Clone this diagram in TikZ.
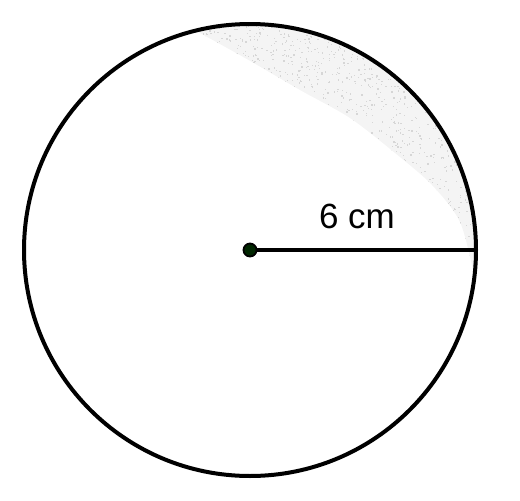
\documentclass[tikz,border=0pt]{standalone}
\usepackage{fontspec}
\setmainfont{Liberation Sans}
\begin{document}
\begin{tikzpicture}[x=1pt,y=-1pt,
  outline/.style={line width=4pt,draw=black},
  radiusline/.style={line width=3.6pt,draw=black},
  centerdot/.style={circle,fill=black!75!green!60!black,draw=black,line width=1.8pt,minimum size=13pt,inner sep=0pt},
  lbl/.style={font=\fontsize{35}{42}\selectfont,inner sep=0pt}]
\useasboundingbox (0,0) rectangle (520,501);
% shaded crescent
\pgfmathsetseed{7}
\begin{scope}
  \clip (250,250) circle[radius=225];
  \clip (180,10) -- (250,10) -- (490,10) -- (490,275)
     -- plot[smooth] coordinates {(474,275) (460,222) (432,185) (395,153) (350,118) (300,90) (245,58) (180,22)} -- cycle;
  \fill[gray!9] (150,0) rectangle (500,300);
  \foreach \i in {1,...,2600} {
    \pgfmathsetmacro{\xx}{180+rnd*300}
    \pgfmathsetmacro{\yy}{20+rnd*270}
    \fill[gray!32] (\xx,\yy) rectangle +(1.3,1.3);
  }
\end{scope}
\node[circle,minimum size=452pt,inner sep=0pt,outline] (circ) at (250,250) {};
\node[centerdot] (ctr) at (250,250) {};
\coordinate (rim) at (circ.east);
\draw[radiusline] (ctr.east) -- (rim);
\node[lbl] (len) at (357,216) {6 cm};
\end{tikzpicture}
\end{document}
